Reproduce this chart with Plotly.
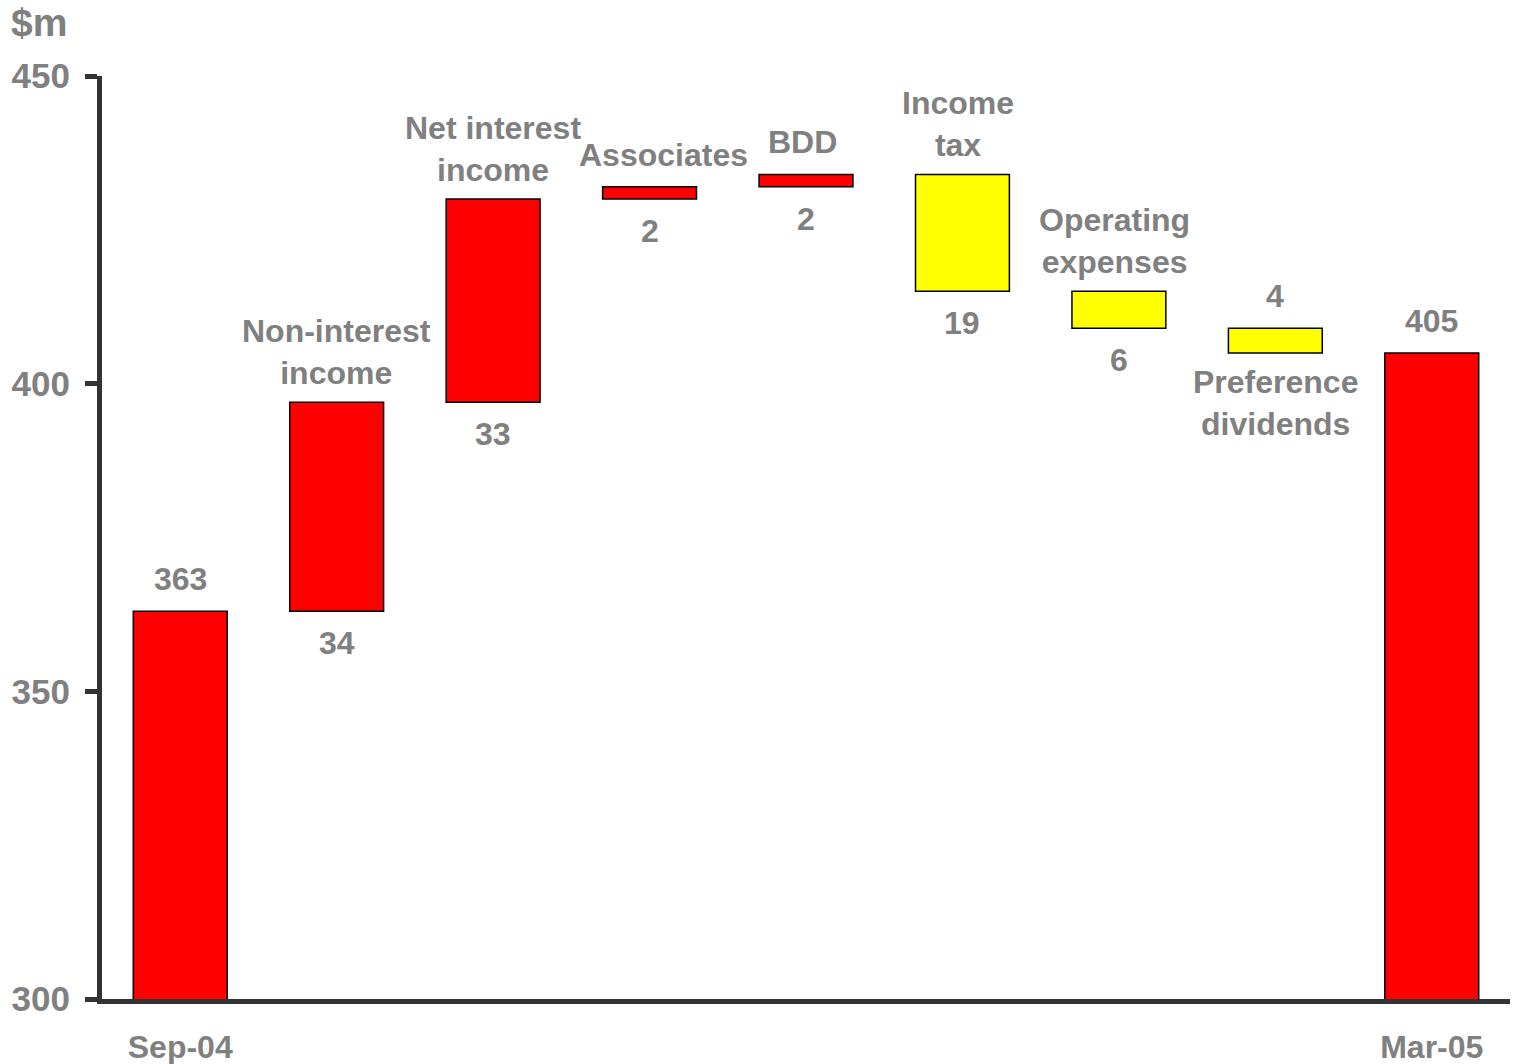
import plotly.graph_objects as go

# Profit bridge, $m
start_label = "Sep-04"
end_label = "Mar-05"
start_value = 363
end_value = 405
step_labels = [
    "Non-interest<br>income",
    "Net interest<br>income",
    "Associates",
    "BDD",
    "Income<br>tax",
    "Operating<br>expenses",
    "Preference<br>dividends",
]
step_values = [34, 33, 2, 2, -19, -6, -4]
y_ticks = [300, 350, 400, 450]

# where each step's name sits relative to its bar, and a small sideways nudge (px)
name_side = ["above", "above", "above", "above", "above", "above", "below"]
name_nudge = [0, 0, 14, -4, -4, -4, 0]

RED = "#FF0000"
YELLOW = "#FFFF00"
GREY = "#808080"
AXIS = "#333333"
FONT = "Liberation Sans, Arial, sans-serif"

n_steps = len(step_values)
xs = list(range(n_steps + 2))

# floating bars: each step starts where the previous one ended
bases, heights, colors = [0], [start_value], [RED]
level = start_value
for v in step_values:
    bases.append(level)
    heights.append(v)
    colors.append(RED if v > 0 else YELLOW)
    level += v
bases.append(0)
heights.append(end_value)
colors.append(RED)

fig = go.Figure(
    go.Bar(
        x=xs,
        y=heights,
        base=bases,
        width=0.6,
        marker=dict(color=colors, line=dict(color="#000000", width=1.5)),
        hoverinfo="skip",
    )
)

ann_font = dict(family=FONT, size=32, color=GREY, weight="bold")
annotations = []


def add_label(x, y, text, side, nudge=0):
    lines = text.count("<br>") + 1
    off = 32 if lines == 1 else 50
    annotations.append(
        dict(
            x=x, y=y, xref="x", yref="y", text=text, showarrow=False,
            font=ann_font, xanchor="center", yanchor="middle",
            xshift=nudge, yshift=off if side == "above" else -off,
        )
    )


# totals: value above the bar
add_label(0, start_value, str(start_value), "above")
add_label(n_steps + 1, end_value, str(end_value), "above")

level = start_value
for i, (name, v) in enumerate(zip(step_labels, step_values)):
    x = i + 1
    top = max(level, level + v)
    bottom = min(level, level + v)
    if name_side[i] == "above":
        add_label(x, top, name, "above", name_nudge[i])
        add_label(x, bottom, str(abs(v)), "below")
    else:
        add_label(x, bottom, name, "below", name_nudge[i])
        add_label(x, top, str(abs(v)), "above")
    level += v

# unit caption
annotations.append(
    dict(
        x=0, y=1, xref="paper", yref="paper", text="$m", showarrow=False,
        font=dict(family=FONT, size=39, color=GREY, weight="bold"),
        xanchor="left", yanchor="middle", xshift=-93, yshift=54,
    )
)

fig.update_layout(
    width=1516,
    height=1064,
    margin=dict(l=102, r=6, t=76, b=65),
    paper_bgcolor="white",
    plot_bgcolor="white",
    showlegend=False,
    annotations=annotations,
    bargap=0.4,
)

fig.update_xaxes(
    range=[-0.5, n_steps + 1.5],
    tickvals=[0, n_steps + 1],
    ticktext=[start_label, end_label],
    tickfont=dict(family=FONT, size=32, color=GREY, weight="bold"),
    ticks="",
    ticklabelstandoff=16,
    automargin=False,
    showline=True,
    linecolor=AXIS,
    linewidth=5,
    showgrid=False,
    zeroline=False,
)

fig.update_yaxes(
    range=[y_ticks[0], y_ticks[-1]],
    tickvals=y_ticks,
    tickfont=dict(family=FONT, size=35, color=GREY, weight="bold"),
    ticks="outside",
    ticklen=12,
    tickwidth=5,
    tickcolor=AXIS,
    ticklabelstandoff=8,
    automargin=False,
    showline=True,
    linecolor=AXIS,
    linewidth=5,
    showgrid=False,
    zeroline=False,
)

fig.write_html("out.html")
